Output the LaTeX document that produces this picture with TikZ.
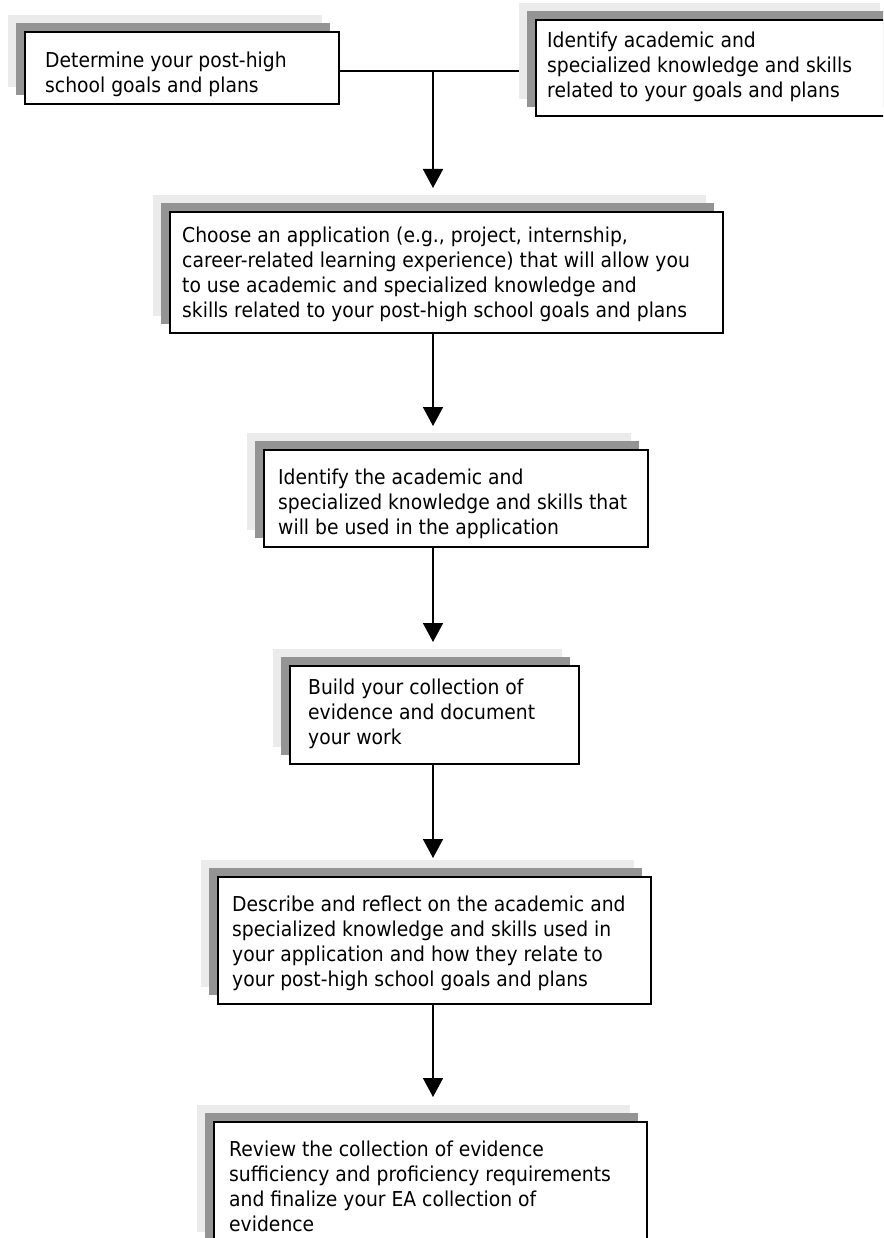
\documentclass[tikz,border=0pt]{standalone}
\usepackage{fontspec}
\setmainfont{DejaVu Sans}[FakeStretch=0.915]
\usetikzlibrary{arrows.meta}
\definecolor{shlight}{RGB}{235,235,235}
\definecolor{shdark}{RGB}{148,148,148}
\tikzset{
  shadowlight/.style={rectangle, fill=shlight, draw=none, anchor=north west, inner sep=0pt},
  shadowdark/.style={rectangle, fill=shdark, draw=none, anchor=north west, inner sep=0pt},
  stepbox/.style={rectangle, fill=white, draw=black, line width=1.8pt, anchor=north west, inner sep=0pt},
  steptext/.style={anchor=north west, inner sep=0pt, align=left, font=\fontsize{20.5}{24.8}\selectfont},
  flow/.style={line width=1.6pt, -{Triangle[width=20pt,length=19pt]}},
  link/.style={line width=1.6pt},
}
% #1 name, #2 left, #3 top, #4 width, #5 height (all in px = pt)
\newcommand\flowbox[5]{%
  \node[shadowlight, minimum width=#4pt, minimum height=#5pt] (#1l) at (#2-16,#3-16) {};
  \node[shadowdark, minimum width=#4pt, minimum height=#5pt] (#1d) at (#2-8,#3-8) {};
  \node[stepbox, minimum width=#4pt, minimum height=#5pt] (#1) at (#2,#3) {};
}
\begin{document}
\begin{tikzpicture}[x=1pt, y=-1pt]
  \path[use as bounding box] (0,0) rectangle (883,1238);
  \clip (0,0) rectangle (883,1238);
  \fill[white] (0,0) rectangle (883,1238);

  \coordinate (j) at (433,70);

  \flowbox{b1}{24}{31}{314}{72}
  \flowbox{b2}{535}{19}{361}{96}
  \flowbox{b3}{169}{211}{553}{121}
  \flowbox{b4}{263}{449}{384}{97}
  \flowbox{b5}{289}{665}{289}{98}
  \flowbox{b6}{217}{876}{433}{127}
  \flowbox{b7}{213}{1121}{433}{127}

  \node[steptext] (t1) at (45,52) {Determine your post-high\\school goals and plans};
  \node[steptext] (t2) at (547,32) {Identify academic and\\specialized knowledge and skills\\related to your goals and plans};
  \node[steptext] (t3) at (182,227) {Choose an application (e.g., project, internship,\\career-related learning experience) that will allow you\\to use academic and specialized knowledge and\\skills related to your post-high school goals and plans};
  \node[steptext] (t4) at (278,469) {Identify the academic and\\specialized knowledge and skills that\\will be used in the application};
  \node[steptext] (t5) at (308,679) {Build your collection of\\evidence and document\\your work};
  \node[steptext] (t6) at (232,896) {Describe and reflect on the academic and\\specialized knowledge and skills used in\\your application and how they relate to\\your post-high school goals and plans};
  \node[steptext] (t7) at (229,1141) {Review the collection of evidence\\sufficiency and proficiency requirements\\and finalize your EA collection of\\evidence};

  \draw[link] ([yshift=-3pt]b1.east) -- ([yshift=-3pt]b1.east -| b2l.west);
  \draw[flow, shorten >=7pt] (j) -- (j |- b3l.north);
  \draw[flow, shorten >=7pt] (b3.south -| j) -- (j |- b4l.north);
  \draw[flow, shorten >=7pt] (b4.south -| j) -- (j |- b5l.north);
  \draw[flow, shorten >=2pt] (b5.south -| j) -- (j |- b6l.north);
  \draw[flow, shorten >=8pt] (b6.south -| j) -- (j |- b7l.north);
\end{tikzpicture}
\end{document}
